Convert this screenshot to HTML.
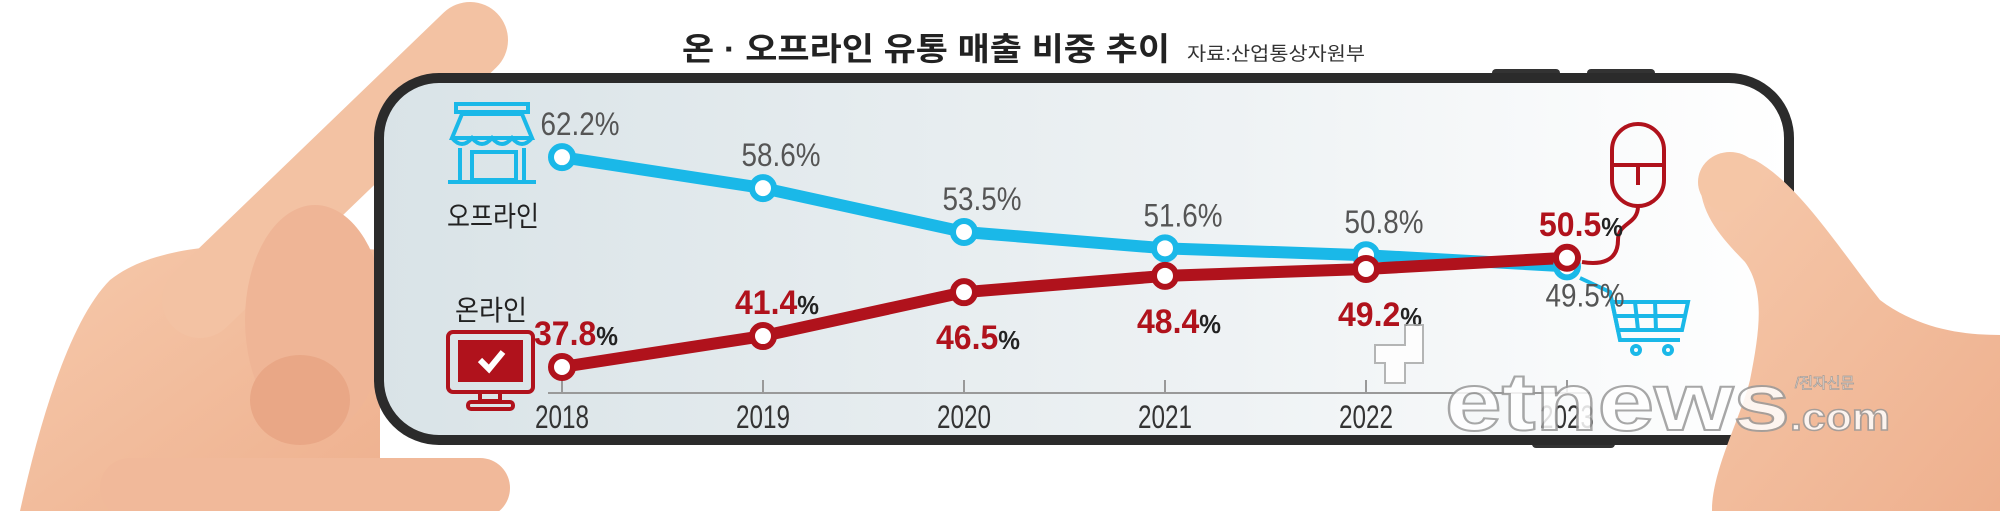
<!DOCTYPE html>
<html><head><meta charset="utf-8">
<style>
html,body{margin:0;padding:0;background:#fff;}
svg{display:block;}
.t{font-family:"Liberation Sans Narrow","Liberation Sans","Noto Sans CJK KR",sans-serif;}
.k{font-family:"Liberation Sans","Noto Sans CJK KR",sans-serif;}
</style></head>
<body>
<svg id="chart" width="2000" height="511" viewBox="0 0 2000 511" xmlns="http://www.w3.org/2000/svg">
<defs>
<linearGradient id="scr" x1="0" x2="1" y1="0" y2="0">
<stop offset="0" stop-color="#d9e3e7"/><stop offset="0.6" stop-color="#eef2f4"/><stop offset="1" stop-color="#ffffff"/>
</linearGradient>
<linearGradient id="skin" x1="0" x2="1" y1="0" y2="1">
<stop offset="0" stop-color="#f6c9ab"/><stop offset="1" stop-color="#eeb08e"/>
</linearGradient>
</defs>

<!-- Left hand -->
<g>
<path d="M20,511 C40,420 70,320 110,280 C160,240 260,240 380,250 L380,511 Z" fill="url(#skin)"/>
<line x1="470" y1="40" x2="200" y2="300" stroke="#f3c2a3" stroke-width="76" stroke-linecap="round"/>
<ellipse cx="315" cy="320" rx="70" ry="115" fill="#efb596"/>
<ellipse cx="300" cy="400" rx="50" ry="45" fill="#e9a786"/>
<line x1="130" y1="488" x2="480" y2="488" stroke="#f1b99a" stroke-width="60" stroke-linecap="round"/>
</g>

<!-- Phone -->
<g>
<rect x="1492" y="69" width="68" height="12" rx="4" fill="#333"/>
<rect x="1587" y="69" width="68" height="12" rx="4" fill="#333"/>
<rect x="1532" y="438" width="83" height="10" rx="4" fill="#333"/>
<rect x="379" y="78" width="1410" height="362" rx="60" fill="url(#scr)" stroke="#2b2b2b" stroke-width="10"/>
</g>

<!-- Title -->
<text class="k" x="682" y="60" font-size="32" font-weight="bold" fill="#222" textLength="488" lengthAdjust="spacingAndGlyphs">온 · 오프라인 유통 매출 비중 추이</text>
<text class="k" x="1187" y="60" font-size="19" fill="#333" textLength="178" lengthAdjust="spacingAndGlyphs">자료:산업통상자원부</text>

<!-- Store icon -->
<g fill="none" stroke="#1ab8e8" stroke-width="4">
<rect x="456" y="104" width="72" height="8"/>
<path d="M452,138 L462,114 L522,114 L532,138 Z"/>
<path d="M452,138 q10,12 20,0 q10,12 20,0 q10,12 20,0 q10,12 20,0"/>
<line x1="460" y1="148" x2="460" y2="180"/><line x1="524" y1="148" x2="524" y2="180"/>
<rect x="472" y="152" width="44" height="28"/>
<line x1="448" y1="182" x2="536" y2="182"/>
</g>
<text class="k" x="493" y="226" font-size="28" text-anchor="middle" fill="#222" textLength="92" lengthAdjust="spacingAndGlyphs">오프라인</text>
<text class="k" x="491" y="320" font-size="28" text-anchor="middle" fill="#222" textLength="72" lengthAdjust="spacingAndGlyphs">온라인</text>

<!-- Monitor icon -->
<g>
<rect x="448" y="332" width="85" height="60" rx="5" fill="none" stroke="#b0121c" stroke-width="4"/>
<rect x="458" y="340" width="65" height="42" fill="#b0121c"/>
<path d="M480,360 l9,9 l14,-17" fill="none" stroke="#fff" stroke-width="6"/>
<rect x="480" y="392" width="20" height="9" fill="none" stroke="#b0121c" stroke-width="4"/>
<rect x="468" y="402" width="45" height="7" rx="3" fill="none" stroke="#b0121c" stroke-width="4"/>
</g>

<!-- Mouse icon -->
<g fill="none" stroke="#b0121c" stroke-width="4">
<rect x="1612" y="124" width="52" height="82" rx="26"/>
<line x1="1612" y1="165" x2="1664" y2="165"/>
<line x1="1638" y1="165" x2="1638" y2="185"/>
<path d="M1638,206 C1638,225 1618,222 1618,240 C1618,262 1600,265 1582,262"/>
</g>

<!-- Cart icon -->
<g fill="none" stroke="#1ab8e8" stroke-width="4">
<path d="M1580,278 L1610,292 L1620,340 L1680,340"/>
<path d="M1612,302 L1688,302 L1682,330 L1618,330 Z"/>
<line x1="1635" y1="302" x2="1638" y2="330"/><line x1="1655" y1="302" x2="1656" y2="330"/>
<line x1="1614" y1="316" x2="1685" y2="316"/>
<circle cx="1636" cy="350" r="4"/><circle cx="1668" cy="350" r="4"/>
</g>

<g id="plot"></g>

<!-- Right hand -->
<g>
<path d="M1700,180 C1700,155 1725,148 1755,160 C1800,185 1840,250 1880,300 C1920,330 1965,335 2000,335 L2000,511 L1712,511 C1712,470 1740,420 1750,380 C1760,330 1765,290 1745,262 C1722,238 1700,215 1700,180 Z" fill="url(#skin)"/>
<ellipse cx="1730" cy="182" rx="32" ry="30" fill="#f5c6a6"/>
</g>

<!-- Watermark -->
<g opacity="0.85">
<path d="M1385,345 h20 v-20 h18 v20 h0 v18 h-18 v20 h-20 v-20 h-10 v-18 z" fill="#fff" stroke="#aaa" stroke-width="2"/>
<text class="k" x="1445" y="430" font-size="82" font-weight="bold" fill="#fff" stroke="#999" stroke-width="2" textLength="345" lengthAdjust="spacingAndGlyphs">etnews</text>
<text class="k" x="1790" y="430" font-size="38" font-weight="bold" fill="#fff" stroke="#999" stroke-width="1.5" textLength="100" lengthAdjust="spacingAndGlyphs">.com</text>
<text class="k" x="1795" y="388" font-size="15" fill="#fff" stroke="#999" stroke-width="0.8">/전자신문</text>
</g>

<script>
var years = ["2018","2019","2020","2021","2022","2023"];
var offline = [62.2, 58.6, 53.5, 51.6, 50.8, 49.5];
var online = [37.8, 41.4, 46.5, 48.4, 49.2, 50.5];
var offlineLabelSide = ["above","above","above","above","above","below"];
var onlineLabelSide = ["above","above","below","below","below","above"];

var NS = "http://www.w3.org/2000/svg";
var plot = document.getElementById("plot");
function xs(i){ return 562 + i * 201; }
function ys(v){ return 367 - (v - 37.8) * 8.6; }
function mk(tag, attrs, parent){
  var e = document.createElementNS(NS, tag);
  for (var k in attrs) e.setAttribute(k, attrs[k]);
  (parent || plot).appendChild(e);
  return e;
}

var axis = mk("line", {x1: 548, y1: 393, x2: 1590, y2: 393, stroke: "#999", "stroke-width": 2});


years.forEach(function(y, i){
  var t = mk("line", {x1: xs(i), y1: 380, x2: xs(i), y2: 393, stroke: "#999", "stroke-width": 2});
  
  
  var lb = mk("text", {x: xs(i), y: 428, "font-size": 32, "text-anchor": "middle", fill: "#333", "class": "t", textLength: 54, lengthAdjust: "spacingAndGlyphs"});
  lb.textContent = y;
  
  
});

function series(vals, color, name){
  var d = vals.map(function(v, i){ return (i ? "L" : "M") + xs(i) + "," + ys(v); }).join(" ");
  var p = mk("path", {d: d, fill: "none", stroke: color, "stroke-width": 12, "stroke-linejoin": "round"});
  
  
}
function points(vals, color, name){
  vals.forEach(function(v, i){
    var c = mk("circle", {cx: xs(i), cy: ys(v), r: 11, fill: "#fff", stroke: color, "stroke-width": 6});
    
    
  });
}
series(offline, "#1ab8e8", "offline");
series(online, "#b0121c", "online");
points(offline, "#1ab8e8", "offline");
points(online, "#b0121c", "online");

offline.forEach(function(v, i){
  var below = offlineLabelSide[i] === "below";
  var t = mk("text", {x: xs(i) + 18, y: ys(v) + (below ? 40 : -22), "font-size": 32, "text-anchor": "middle", fill: "#555", "class": "t", textLength: 79, lengthAdjust: "spacingAndGlyphs"});
  t.textContent = v.toFixed(1) + "%";
  
  
});
online.forEach(function(v, i){
  var below = onlineLabelSide[i] === "below";
  var t = mk("text", {x: xs(i) + 14, y: ys(v) + (below ? 57 : -22), "font-size": 34, "font-weight": "bold", "text-anchor": "middle", fill: "#b0121c", "class": "t", textLength: 84, lengthAdjust: "spacingAndGlyphs"});
  t.textContent = v.toFixed(1);
  var s = document.createElementNS(NS, "tspan");
  s.setAttribute("fill", "#222");
  s.setAttribute("font-size", "26");
  s.textContent = "%";
  t.appendChild(s);
  
  
});
</script>
</svg>
</body></html>
